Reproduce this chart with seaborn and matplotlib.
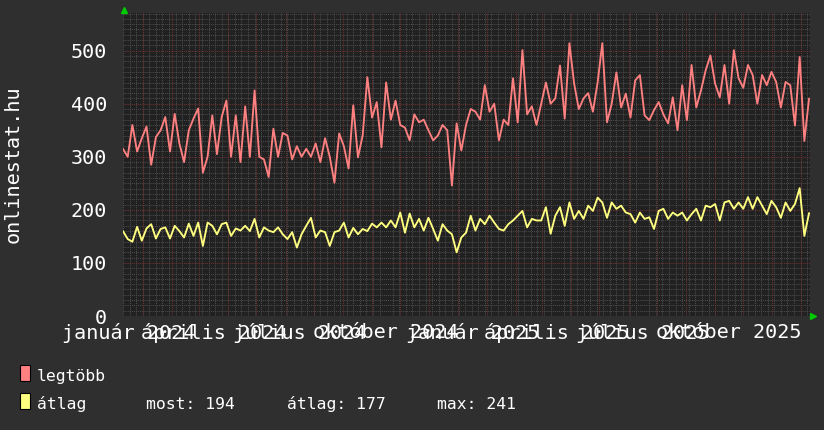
import matplotlib
matplotlib.use("Agg")
import matplotlib.pyplot as plt
import matplotlib.dates as mdates
import matplotlib.ticker as mticker
from matplotlib.patches import Rectangle
import seaborn as sns
import pandas as pd

### ADATOK - 5 naponta
kezdet = '2023-12-11'
lepes = '5D'

legtobb = [315, 300, 360, 310, 335, 357, 285, 337, 350, 375,
           310, 381, 325, 290, 350, 372, 391, 270, 300, 378,
           305, 375, 406, 300, 378, 290, 395, 300, 425, 300,
           295, 262, 353, 300, 345, 340, 295, 320, 300, 315,
           300, 325, 290, 335, 300, 251, 344, 320, 278, 397,
           299, 340, 450, 374, 403, 318, 440, 370, 406, 360,
           355, 331, 380, 365, 370, 350, 331, 340, 360, 350,
           246, 363, 312, 360, 390, 385, 370, 435, 385, 400,
           331, 370, 360, 448, 365, 501, 380, 395, 360, 400,
           440, 400, 410, 472, 372, 514, 438, 390, 410, 420,
           385, 440, 514, 365, 400, 459, 393, 419, 374, 444,
           454, 378, 369, 388, 403, 380, 363, 412, 350, 435,
           369, 473, 393, 425, 463, 491, 438, 412, 473, 400,
           501, 448, 430, 473, 454, 400, 454, 435, 460, 441,
           393, 441, 435, 359, 488, 330, 410]

atlag = [160, 145, 140, 168, 142, 165, 173, 146, 164, 167,
         146, 170, 160, 148, 174, 151, 176, 132, 176, 170,
         154, 173, 176, 151, 165, 161, 170, 160, 183, 148,
         167, 161, 158, 167, 154, 145, 158, 129, 154, 170,
         185, 148, 161, 158, 132, 158, 161, 176, 148, 166,
         154, 164, 160, 174, 167, 176, 167, 180, 167, 195,
         157, 193, 167, 183, 161, 185, 164, 142, 173, 161,
         154, 120, 148, 157, 189, 161, 183, 173, 189, 176,
         164, 161, 173, 180, 189, 198, 167, 183, 180, 180,
         205, 155, 189, 205, 170, 214, 183, 198, 183, 208,
         198, 223, 214, 185, 214, 202, 208, 195, 192, 176,
         195, 183, 186, 164, 198, 202, 183, 195, 189, 195,
         180, 192, 202, 180, 208, 205, 211, 180, 214, 217,
         202, 214, 202, 224, 202, 224, 208, 192, 217, 205,
         185, 214, 198, 211, 241, 151, 194]

honapok = ['január', 'február', 'március', 'április', 'május', 'június',
           'július', 'augusztus', 'szeptember', 'október', 'november', 'december']
y_ticks = [0, 100, 200, 300, 400, 500]
stat_nevek = ['most', 'átlag', 'max']
stat_ertekek = [194, 177, 241]

BG = '#2f2f2f'
PLOT_BG = '#212121'
RED = '#ff8080'
YEL = '#ffff80'
MINOR = '#4c4c4c'
MAJOR = '#6e3232'

datumok = pd.date_range(kezdet, periods=len(legtobb), freq=lepes)
df = pd.DataFrame({'datum': datumok, 'legtöbb': legtobb, 'átlag': atlag})

sns.set_theme(style='dark')
plt.rcParams['font.family'] = ['DejaVu Sans Mono']

fig = plt.figure(figsize=(8.24, 4.30), dpi=100, facecolor=BG)
ax = fig.add_axes([123/824, 114/430, 687/824, 303/430])
ax.set_facecolor(PLOT_BG)
for s in ax.spines.values():
    s.set_visible(False)

sns.lineplot(data=df, x='datum', y='legtöbb', color=RED, linewidth=1.35, ax=ax)
sns.lineplot(data=df, x='datum', y='átlag', color=YEL, linewidth=1.35, ax=ax)

ax.set_xlim(pd.Timestamp('2023-12-11'), pd.Timestamp('2025-12-11'))
ax.set_ylim(0, 571)

# negyedéves feliratok (kicsit balra tolva, mint az eredetin)
negyedek = pd.date_range('2024-01-01', '2025-10-01', freq='QS')
cimkek = [f'{honapok[q.month - 1]} {q.year}' for q in negyedek]
ax.set_xticks(negyedek - pd.Timedelta(days=15), cimkek)
ax.xaxis.set_minor_locator(mdates.WeekdayLocator(byweekday=mdates.MO))
ax.yaxis.set_major_locator(mticker.FixedLocator(y_ticks))
ax.yaxis.set_minor_locator(mticker.MultipleLocator(10))

dots = (0, (1, 1))
ax.grid(axis='x', which='major', visible=False)
ax.grid(axis='x', which='minor', color=MINOR, linestyle=dots, linewidth=0.75)
ax.grid(axis='y', which='minor', color=MINOR, linestyle=dots, linewidth=0.75)
ax.grid(axis='y', which='major', color=MAJOR, linestyle=dots, linewidth=0.75)
for m in pd.date_range('2024-01-01', '2025-12-01', freq='MS'):
    ax.axvline(m, color=MAJOR, linestyle=dots, linewidth=0.75, zorder=0.6)
ax.set_axisbelow(True)

ax.tick_params(axis='both', which='both', length=0, colors='white', labelsize=14.5)
ax.tick_params(axis='y', pad=11.5)
ax.tick_params(axis='x', pad=5)

ax.set_xlabel('')
ax.set_ylabel('onlinestat.hu', color='white', fontsize=14.5)
ax.yaxis.set_label_coords(-0.146, 0.5)

# zöld nyilak
ax.plot([0.002], [1.009], marker='^', color='#00cc00', markersize=4.5,
        transform=ax.transAxes, clip_on=False)
ax.plot([1.005], [0.0], marker='>', color='#00cc00', markersize=4.5,
        transform=ax.transAxes, clip_on=False)

# jelmagyarázat
W, H = 824, 430
for nev, szin, base in [('legtöbb', RED, 381), ('átlag', YEL, 409)]:
    fig.patches.append(Rectangle((20/W, (H - base)/H), 10/W, 16/H, facecolor=szin,
                                 edgecolor='black', linewidth=0.8, transform=fig.transFigure))
    fig.text(37/W, (H - base)/H, nev, color='white', fontsize=11.8, va='baseline')

for nev, ertek, xp in zip(stat_nevek, stat_ertekek, [146, 287, 437]):
    fig.text(xp/W, (H - 409)/H, f'{nev}: {ertek}', color='white', fontsize=11.8, va='baseline')

plt.savefig('out.png', dpi=100, facecolor=BG)
plt.close('all')
